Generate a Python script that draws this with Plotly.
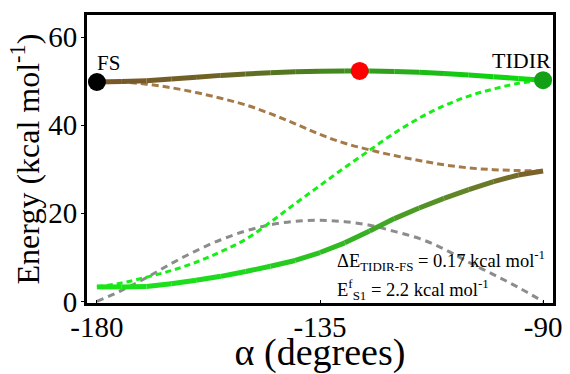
import plotly.graph_objects as go
from plotly.colors import sample_colorscale

# Torsion angle alpha (degrees)
alpha = [-180, -175, -170, -165, -160, -155, -150, -145, -140, -135,
         -130, -125, -120, -115, -110, -105, -100, -95, -90]

# Adiabatic excited-state (upper) and ground-state (lower) curves, kcal/mol
upper = [49.8, 49.9, 50.1, 50.5, 50.9, 51.3, 51.6, 51.9, 52.1, 52.25,
         52.3, 52.3, 52.2, 52.0, 51.7, 51.4, 51.0, 50.6, 50.2]
lower = [3.3, 3.3, 3.4, 4.0, 4.8, 5.7, 6.8, 8.0, 9.3, 11.1,
         13.3, 16.0, 18.8, 21.2, 23.4, 25.4, 27.2, 28.7, 29.6]

# Diabatic curves and coupling, kcal/mol
diab_brown = [50.0, 49.8, 49.3, 48.5, 47.4, 46.1, 44.6, 42.6, 40.3, 37.9,
              35.9, 34.4, 33.1, 32.0, 31.0, 30.3, 29.9, 29.7, 29.6]
diab_green = [3.3, 4.2, 5.5, 7.0, 8.9, 11.3, 14.1, 18.0, 22.2, 26.3,
              30.4, 34.3, 38.2, 41.6, 44.4, 46.6, 48.2, 49.5, 50.2]
coupling = [0.0, 2.5, 5.4, 8.6, 11.5, 14.0, 16.0, 17.4, 18.2, 18.4,
            18.1, 17.3, 15.9, 14.3, 11.9, 8.9, 6.1, 3.2, 0.0]

# Stationary points
fs_point = (-180, 49.8)
ts_point = (-127, 52.3)
tidir_point = (-90, 50.2)

FONT = "Liberation Serif, Times New Roman, serif"

upper_scale = [[0.0, "rgb(122,86,42)"], [0.25, "rgb(112,98,38)"],
               [0.45, "rgb(80,122,32)"], [0.6, "rgb(55,150,30)"],
               [0.8, "rgb(20,200,20)"], [1.0, "rgb(10,225,10)"]]
lower_scale = [[0.0, "rgb(25,230,25)"], [0.35, "rgb(30,215,30)"],
               [0.6, "rgb(55,175,35)"], [0.8, "rgb(95,135,40)"],
               [1.0, "rgb(128,92,44)"]]

fig = go.Figure()

dashed = [
    (coupling, "rgb(140,140,140)", "7px,5px"),
    (diab_brown, "rgb(165,122,72)", "7px,4px"),
    (diab_green, "rgb(20,240,20)", "6px,4px"),
]
for ys, col, dash in dashed:
    fig.add_trace(go.Scatter(x=alpha, y=ys, mode="lines", line_shape="spline",
                             line=dict(color=col, width=3, dash=dash),
                             showlegend=False, hoverinfo="skip"))


def gradient_line(xs, ys, scale):
    n = len(xs) - 1
    for i in range(n):
        c = sample_colorscale(scale, [(i + 0.5) / n])[0]
        fig.add_trace(go.Scatter(x=xs[i:i + 2], y=ys[i:i + 2], mode="lines",
                                 line=dict(color=c, width=5),
                                 showlegend=False, hoverinfo="skip"))


gradient_line(alpha, lower, lower_scale)
gradient_line(alpha, upper, upper_scale)

for (px, py), col in [(fs_point, "black"), (ts_point, "rgb(255,0,0)"),
                      (tidir_point, "rgb(20,160,20)")]:
    fig.add_trace(go.Scatter(x=[px], y=[py], mode="markers",
                             marker=dict(color=col, size=18),
                             showlegend=False, hoverinfo="skip"))

fig.add_annotation(x=fs_point[0], y=fs_point[1], text="FS", showarrow=False,
                   xanchor="left", yanchor="bottom", xshift=-2, yshift=5,
                   font=dict(family=FONT, size=21, color="black"))
fig.add_annotation(x=tidir_point[0], y=tidir_point[1], text="TIDIR", showarrow=False,
                   xanchor="right", yanchor="bottom", xshift=10, yshift=5,
                   font=dict(family=FONT, size=22, color="black"))

fig.add_annotation(x=-132.0, y=9.4, xanchor="left", yanchor="middle", showarrow=False,
                   text="ΔE<sub>TIDIR-FS</sub> = 0.17 kcal mol<sup>-1</sup>",
                   font=dict(family=FONT, size=18.5, color="black"))
fig.add_annotation(x=-132.0, y=2.8, xanchor="left", yanchor="middle", showarrow=False,
                   text="E<sup>f</sup><sub>S1</sub> = 2.2 kcal mol<sup>-1</sup>",
                   font=dict(family=FONT, size=18.5, color="black"))

axis_common = dict(showline=True, linecolor="black", linewidth=3, mirror=True,
                   showgrid=False, zeroline=False, ticklen=3, tickwidth=1,
                   tickcolor="black", automargin=False,
                   tickfont=dict(family=FONT, size=29, color="black"))

fig.update_xaxes(range=[-182, -88], tickvals=[-180, -135, -90],
                 ticktext=["-180", "-135", "-90"], ticks="inside",
                 ticklabelstandoff=-4,
                 title=dict(text="α (degrees)", standoff=0,
                            font=dict(family=FONT, size=38, color="black")),
                 **axis_common)
fig.update_yaxes(range=[-0.35, 65], tickvals=[0, 20, 40, 60], ticks="outside",
                 ticklabelstandoff=-2,
                 title=dict(text="Energy (kcal mol<sup>-1</sup>)", standoff=0,
                            font=dict(family=FONT, size=32, color="black")),
                 **axis_common)

fig.update_layout(width=570, height=374, margin=dict(l=87, r=17, t=15, b=71),
                  paper_bgcolor="white", plot_bgcolor="white")

fig.write_html("out.html")
